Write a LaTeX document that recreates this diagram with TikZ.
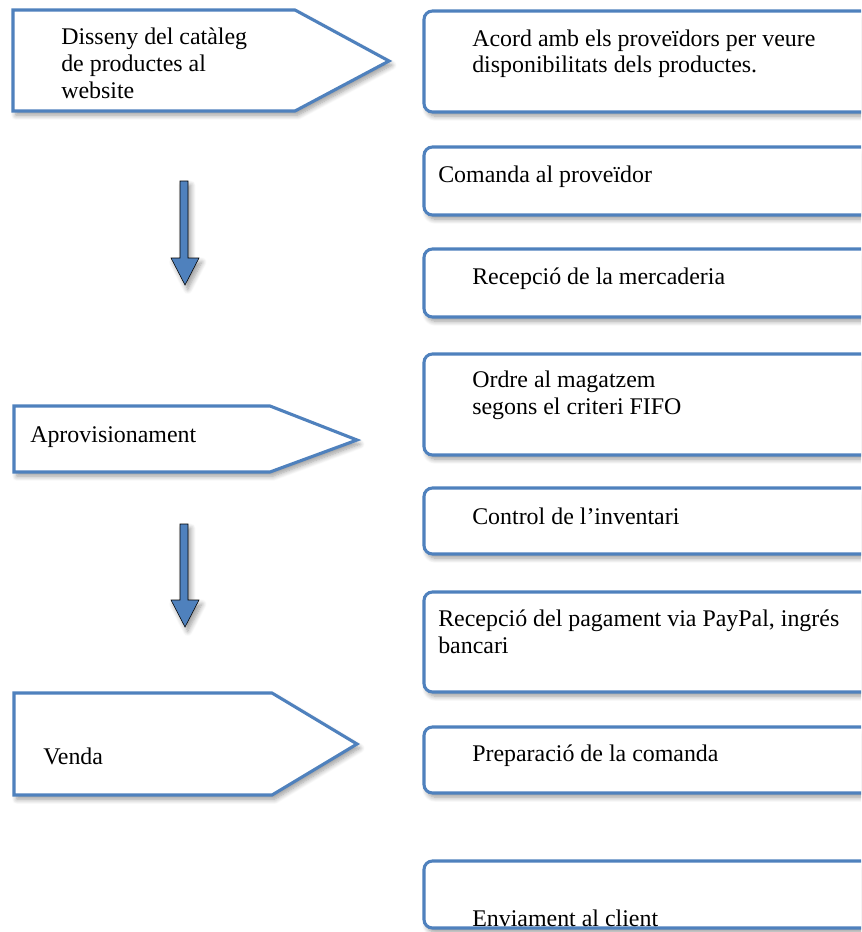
\documentclass[tikz,border=0pt]{standalone}
\usepackage{fontspec}
\setmainfont{Liberation Serif}
\usepackage{xcolor}
\usetikzlibrary{
  fit,
  shadows.blur
}
\definecolor{boxblue}{RGB}{79,129,189}

\begin{document}
\begin{tikzpicture}[
  x=0.025cm, y=-0.025cm,
  shade/.style={blur shadow={shadow xshift=2pt, shadow yshift=-3pt,
                shadow opacity=40, shadow blur steps=8, shadow blur radius=3.5pt}},
  pent/.style={draw=boxblue, line width=2.2pt, fill=white, shade},
  rbox/.style={draw=boxblue, line width=2.2pt, fill=white, shade,
               rounded corners=6pt, inner sep=0pt},
  downarr/.style={fill=boxblue, shade},
  txt/.style={anchor=base west, align=left, inner sep=0pt,
              font=\fontsize{17}{19.2}\selectfont},
]
\clip (0,0) rectangle (861,932);
\useasboundingbox (0,0) rectangle (861,932);

% stages on the left (base = last line)
\draw[pent] (13,10) -- (295,10) -- (389,61) -- (295,111) -- (13,111) -- cycle;
\draw[pent] (14,406) -- (270,406) -- (357,440) -- (270,472) -- (14,472) -- cycle;
\draw[pent] (14,693) -- (272,693) -- (357,744) -- (272,795) -- (14,795) -- cycle;

\node[txt] (disseny) at (61,99) {Disseny del catàleg\\de productes al\\website};
\node[txt] (aprov) at (30,442) {Aprovisionament};
\node[txt] (venda) at (43,764) {Venda};

\draw[downarr] (180,181) -- (188,181) -- (188,258) -- (199,258) -- (185,285)
  -- (171,258) -- (180,258) -- cycle;
\draw[downarr] (180,524) -- (188,524) -- (188,600) -- (199,600) -- (185,627)
  -- (171,600) -- (180,600) -- cycle;

% tasks on the right
\node[rbox, fit={(424,11) (900,112)}] (acord) {};
\node[rbox, fit={(424,147) (900,215)}] (comanda) {};
\node[rbox, fit={(424,249) (900,317)}] (recepcio) {};
\node[rbox, fit={(424,354) (900,455)}] (ordre) {};
\node[rbox, fit={(424,488) (900,554)}] (control) {};
\node[rbox, fit={(424,592) (900,692)}] (pagament) {};
\node[rbox, fit={(424,727) (900,793)}] (preparacio) {};
\node[rbox, fit={(424,861) (900,928)}] (enviament) {};

\node[txt] (t1) at (472,73) {Acord amb els proveïdors per veure\\disponibilitats dels productes.};
\node[txt] (t2) at (438,183) {Comanda al proveïdor};
\node[txt] (t3) at (472,284) {Recepció de la mercaderia};
\node[txt] (t4) at (472,414) {Ordre al magatzem\\segons el criteri FIFO};
\node[txt] (t5) at (472,524) {Control de l’inventari};
\node[txt] (t6) at (438,653) {Recepció del pagament via PayPal, ingrés\\bancari};
\node[txt] (t7) at (472,761) {Preparació de la comanda};
\node[txt] (t8) at (472,926) {Enviament al client};

\end{tikzpicture}
\end{document}
